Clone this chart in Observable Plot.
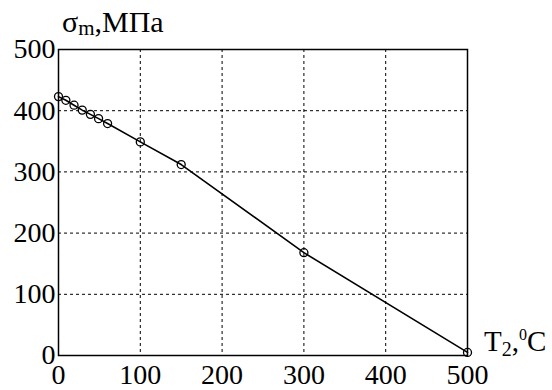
<!DOCTYPE html>
<html>
<head>
<meta charset="utf-8">
<script src="https://cdn.jsdelivr.net/npm/d3@7"></script>
<script src="https://cdn.jsdelivr.net/npm/@observablehq/plot@0.6"></script>
<style>
  html, body { margin: 0; padding: 0; background: #fff; }
  svg { display: block; }
</style>
</head>
<body>
<div id="chart"></div>
<script>
const temperatures = [0, 9, 19, 29, 39, 49, 60, 100, 150, 300, 500];
const strengths = [423, 417, 409, 401, 394, 387, 379, 349, 312, 168, 5];
const xTicks = [0, 100, 200, 300, 400, 500];
const yTicks = [0, 100, 200, 300, 400, 500];
const gridTicks = [100, 200, 300, 400];

const data = temperatures.map((t, i) => ({t, s: strengths[i]}));
const font = "Liberation Serif";

const chart = Plot.plot({
  width: 552,
  height: 390,
  marginLeft: 58,
  marginRight: 85,
  marginTop: 49,
  marginBottom: 35,
  fontFamily: font,
  style: {background: "white", color: "black", overflow: "visible"},
  x: {domain: [0, 500], ticks: xTicks, label: null},
  y: {domain: [0, 500], ticks: yTicks, label: null},
  marks: [
    Plot.ruleX(gridTicks, {stroke: "black", strokeWidth: 1, strokeDasharray: "3,3"}),
    Plot.ruleY(gridTicks, {stroke: "black", strokeWidth: 1, strokeDasharray: "3,3"}),
    Plot.frame({stroke: "black", strokeWidth: 1.5}),
    Plot.axisX({ticks: xTicks, tickSize: 0, tickPadding: 9, fontSize: 28, fill: "black"}),
    Plot.axisY({ticks: yTicks, tickSize: 0, tickPadding: 3, fontSize: 28, fill: "black"}),
    Plot.line(data, {x: "t", y: "s", stroke: "black", strokeWidth: 1.6}),
    Plot.dot(data, {x: "t", y: "s", r: 4, stroke: "black", strokeWidth: 1.3, fill: "none"})
  ]
});

chart.setAttribute("font-family", font);

const svg = d3.select(chart);
// y-axis title: σm,МПа
const yt = svg.append("text")
  .attr("x", 62).attr("y", 32).attr("text-anchor", "start")
  .attr("fill", "black").attr("font-family", font).attr("font-size", 30);
yt.append("tspan").text("σ");
yt.append("tspan").attr("font-size", 21).attr("dy", 3).text("m");
yt.append("tspan").attr("dy", -3).text(",МПа");

// x-axis title: T2,0C
const xt = svg.append("text")
  .attr("x", 484).attr("y", 351).attr("text-anchor", "start")
  .attr("fill", "black").attr("font-family", font).attr("font-size", 29);
xt.append("tspan").text("T");
xt.append("tspan").attr("font-size", 20).attr("dy", 5).text("2");
xt.append("tspan").attr("dy", -5).text(",");
xt.append("tspan").attr("font-size", 16).attr("dy", -11).text("0");
xt.append("tspan").attr("dy", 11).text("C");

document.getElementById("chart").appendChild(chart);
</script>
</body>
</html>
